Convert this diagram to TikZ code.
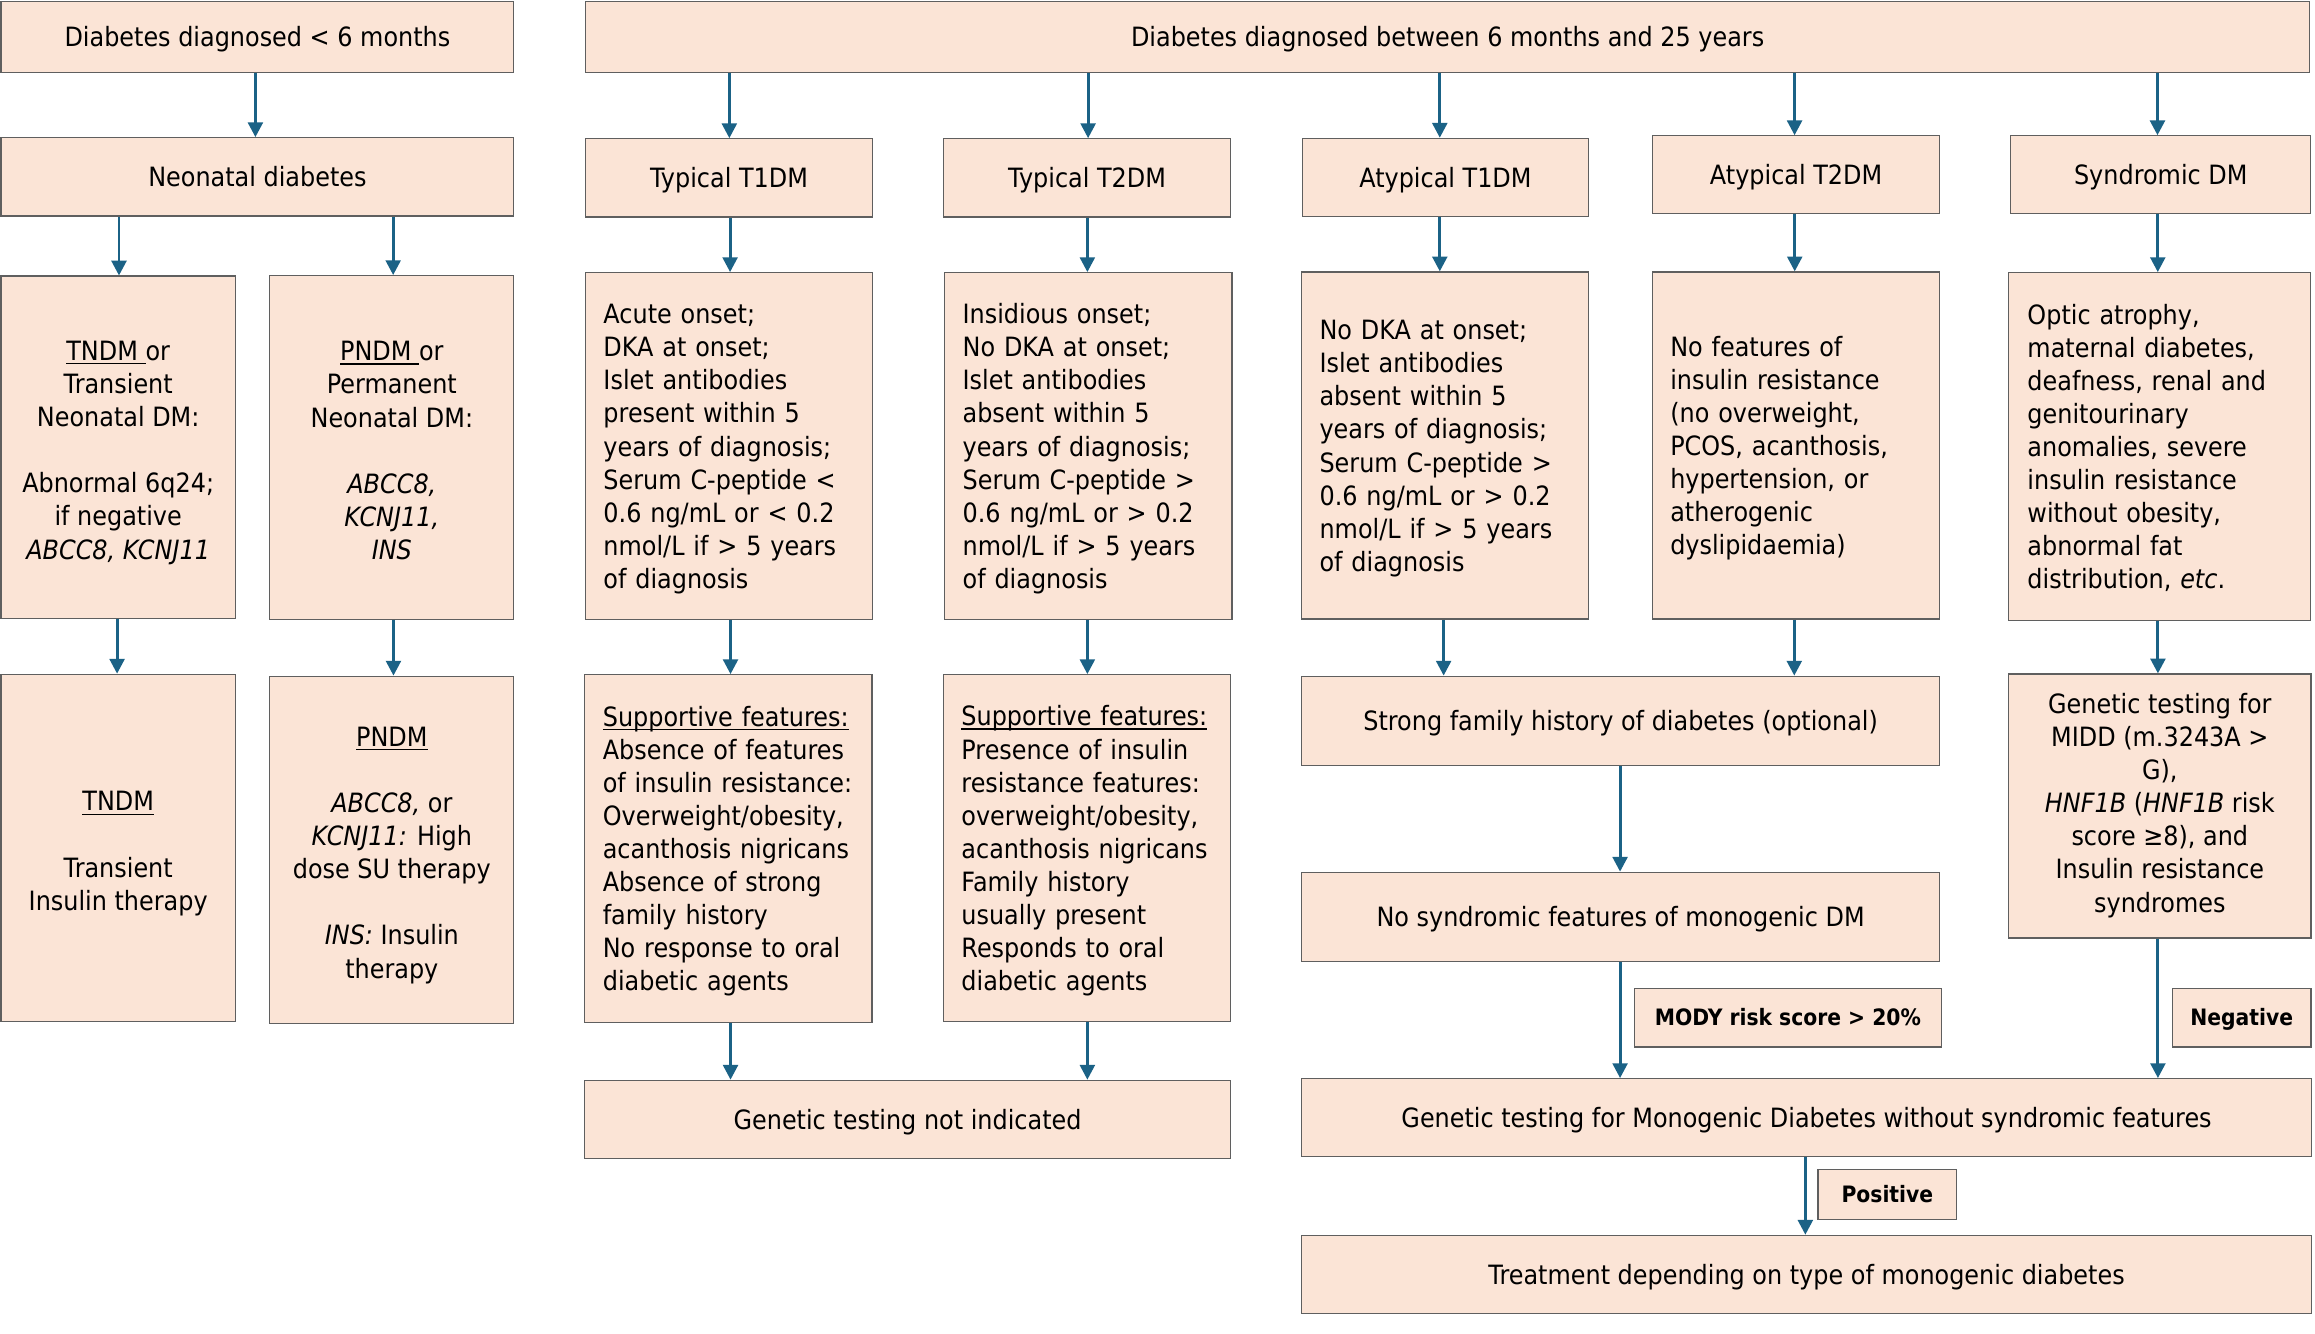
\documentclass[tikz,border=0pt]{standalone}
\usepackage{fontspec}
\setmainfont{DejaVu Sans}[FakeStretch=0.9]
\usetikzlibrary{arrows.meta}
\definecolor{boxfill}{RGB}{251,228,214}
\definecolor{boxline}{RGB}{95,95,95}
\definecolor{arrowc}{RGB}{27,98,134}
\newcommand\mainfs{\fontsize{18pt}{22.4pt}\selectfont}
\newcommand\labfs{\fontsize{15.3pt}{17pt}\selectfont\bfseries}
\newcommand\mystrut{\rule[-4.4pt]{0pt}{22.4pt}}
\newcommand\tallstrut{\rule{0pt}{21.5pt}}
\newcommand\labstrut{\rule[-3.4pt]{0pt}{17.6pt}}
\newcommand\undl[1]{\setbox0\hbox{#1}\rlap{\rule[-2.6pt]{\wd0}{0.9pt}}\box0}
\newcommand\bx[7]{\node[#1, minimum width={(#5)-(#3)}, minimum height={(#6)-(#4)}] (#2) at ({((#3)+(#5))/2},{((#4)+(#6))/2}) {#7};}
\newcommand\va[3]{\draw[arr] (#2.south -| #1,0) -- (#3.north -| #1,0);}
\tikzset{
  box/.style={draw=boxline, fill=boxfill, line width=0.8pt, inner sep=0pt, font=\mainfs,
    execute at begin node=\mystrut, execute at end node=\mystrut},
  cbox/.style={box, align=center},
  lbox/.style={box, align=left, text width=#1},
  lbox/.default=170pt,
  lab/.style={draw=boxline, fill=boxfill, line width=0.8pt, inner sep=0pt, font=\labfs, align=center,
    execute at begin node=\labstrut, execute at end node=\labstrut},
  arr/.style={draw=arrowc, line width=2pt, -{Triangle[length=10pt,width=10pt]}}
}
\begin{document}
\begin{tikzpicture}[x=1pt,y=-1pt]
\fill[white] (0,0) rectangle (1568,903.5);
\useasboundingbox (0,0) rectangle (1568,903.5);
% top row
\bx{cbox}{A}{0.7}{1}{348}{49}{Diabetes diagnosed < 6 months}
\bx{cbox}{B}{396.5}{1}{1564.5}{49}{Diabetes diagnosed between 6 months and 25 years}
% second row
\bx{cbox}{N}{0.7}{93.3}{348}{146.3}{Neonatal diabetes}
\bx{cbox}{T1}{396.5}{94}{591}{147}{Typical T1DM}
\bx{cbox}{T2}{639}{94}{833.5}{147}{Typical T2DM}
\bx{cbox}{AT1}{882}{93.7}{1076}{146.5}{Atypical T1DM}
\bx{cbox}{AT2}{1119.5}{92}{1313.5}{144.5}{Atypical T2DM}
\bx{cbox}{SD}{1362}{92}{1565}{144.5}{Syndromic DM}
% third row
\bx{cbox}{TN}{0.7}{187}{159.4}{418.8}{\tallstrut\undl{TNDM\ }or\\Transient\\Neonatal DM:\\\mystrut\\Abnormal 6q24;\\if negative\\\textit{ABCC8, KCNJ11}}
\bx{cbox}{PN}{182.8}{186.7}{348}{419.5}{\tallstrut\undl{PNDM\ }or\\Permanent\\Neonatal DM:\\\mystrut\\\textit{ABCC8,}\\\textit{KCNJ11,}\\\textit{INS}}
\bx{lbox}{T1d}{396.5}{184.7}{591}{419.5}{Acute onset;\\DKA at onset;\\Islet antibodies\\present within 5\\years of diagnosis;\\Serum C-peptide <\\0.6 ng/mL or < 0.2\\nmol/L if > 5 years\\of diagnosis}
\bx{lbox}{T2d}{639.5}{184.7}{834.5}{419.5}{Insidious onset;\\No DKA at onset;\\Islet antibodies\\absent within 5\\years of diagnosis;\\Serum C-peptide >\\0.6 ng/mL or > 0.2\\nmol/L if > 5 years\\of diagnosis}
\bx{lbox}{AT1d}{881.5}{184.2}{1076}{419.2}{No DKA at onset;\\Islet antibodies\\absent within 5\\years of diagnosis;\\Serum C-peptide >\\0.6 ng/mL or > 0.2\\nmol/L if > 5 years\\of diagnosis}
\bx{lbox}{AT2d}{1119}{184.2}{1313.6}{419.2}{No features of\\insulin resistance\\(no overweight,\\PCOS, acanthosis,\\hypertension, or\\atherogenic\\dyslipidaemia)}
\bx{lbox=179pt}{SDd}{1360.5}{184.7}{1565}{420}{Optic atrophy,\\maternal diabetes,\\deafness, renal and\\genitourinary\\anomalies, severe\\insulin resistance\\without obesity,\\abnormal fat\\distribution, \textit{etc}.}
% fourth row
\bx{cbox}{TNr}{0.7}{456.7}{159.4}{692}{\tallstrut\undl{TNDM}\\\mystrut\\Transient\\Insulin therapy}
\bx{cbox}{PNr}{182.8}{458}{348}{693}{\tallstrut\undl{PNDM}\\\mystrut\\\textit{ABCC8,} or\\\textit{KCNJ11:} High\\dose SU therapy\\\mystrut\\\textit{INS:} Insulin\\therapy}
\bx{lbox}{T1s}{396}{457}{590.6}{692.5}{\undl{Supportive features:}\\Absence of features\\of insulin resistance:\\Overweight/obesity,\\acanthosis nigricans\\Absence of strong\\family history\\No response to oral\\diabetic agents}
\bx{lbox}{T2s}{639}{457}{833.4}{692}{\undl{Supportive features:}\\Presence of insulin\\resistance features:\\overweight/obesity,\\acanthosis nigricans\\Family history\\usually present\\Responds to oral\\diabetic agents}
\bx{cbox}{FH}{881.7}{458}{1313.6}{518.4}{Strong family history of diabetes (optional)}
\bx{cbox}{MIDD}{1360.5}{456.5}{1565.3}{635.3}{Genetic testing for\\MIDD (m.3243A >\\G),\\\textit{HNF1B} (\textit{HNF1B} risk\\score ≥8), and\\Insulin resistance\\syndromes}
\bx{cbox}{NS}{881.7}{590.8}{1313.6}{651.1}{No syndromic features of monogenic DM}
\bx{lab}{MODY}{1107}{669.6}{1315}{709.2}{MODY risk score > 20\%}
\bx{lab}{NEG}{1471.4}{669.6}{1565.3}{709.2}{Negative}
\bx{cbox}{NI}{396}{731.7}{833.4}{784.5}{Genetic testing not indicated}
\bx{cbox}{GT}{881.7}{730.6}{1565.5}{783.2}{Genetic testing for Monogenic Diabetes without syndromic features}
\bx{lab}{POS}{1231.4}{792.2}{1325.3}{825.9}{Positive}
\bx{cbox}{TR}{881.7}{836.7}{1565.5}{889.5}{Treatment depending on type of monogenic diabetes}
% arrows
\va{173}{A}{N}
\va{494}{B}{T1}
\va{737}{B}{T2}
\va{975.2}{B}{AT1}
\va{1215.5}{B}{AT2}
\va{1461.3}{B}{SD}
\va{80.6}{N}{TN}
\va{266.3}{N}{PN}
\va{79.3}{TN}{TNr}
\va{266.5}{PN}{PNr}
\va{494.5}{T1}{T1d}
\va{736.5}{T2}{T2d}
\va{494.8}{T1d}{T1s}
\va{736.5}{T2d}{T2s}
\va{494.8}{T1s}{NI}
\va{736.5}{T2s}{NI}
\va{975.2}{AT1}{AT1d}
\va{1215.6}{AT2}{AT2d}
\va{1461.5}{SD}{SDd}
\va{977.8}{AT1d}{FH}
\va{1215.3}{AT2d}{FH}
\va{1461.6}{SDd}{MIDD}
\va{1097.3}{FH}{NS}
\va{1097.3}{NS}{GT}
\va{1461.6}{MIDD}{GT}
\va{1222.8}{GT}{TR}
\end{tikzpicture}
\end{document}
